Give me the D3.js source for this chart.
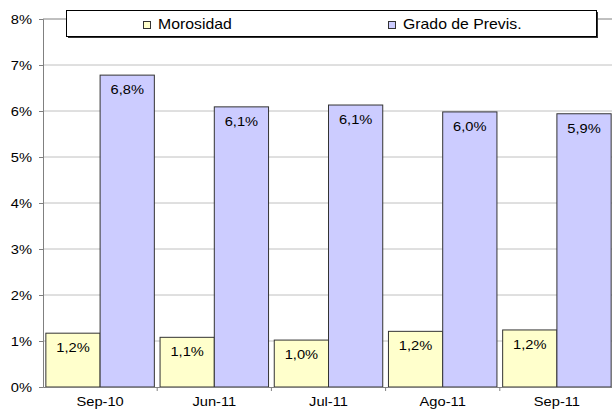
<!DOCTYPE html>
<html>
<head>
<meta charset="utf-8">
<script src="https://cdn.jsdelivr.net/npm/d3@7"></script>
<style>
  body { margin: 0; background: #fff; }
  svg text { font-family: "Liberation Sans", Arial, sans-serif; fill: #000; }
</style>
</head>
<body>
<svg class="chart" width="612" height="410"></svg>
<script>
// ---- Data ----
const categories = ["Sep-10", "Jun-11", "Jul-11", "Ago-11", "Sep-11"];
const seriesNames = ["Morosidad", "Grado de Previs."];
const morosidad = [1.17, 1.08, 1.02, 1.21, 1.24];
const gradoPrevis = [6.78, 6.09, 6.13, 5.98, 5.94];
const yTicks = [0, 1, 2, 3, 4, 5, 6, 7, 8];

const colors = ["#ffffcc", "#ccccff"];
// the original text is a little wider than normal
const stretch = 1.13;

// ---- Layout ----
const svg = d3.select("svg.chart");
const plotL = 43, plotR = 614, plotT = 19, plotB = 387;

const x = d3.scaleBand()
    .domain(categories)
    .range([plotL, plotR])
    .paddingInner(0.05)
    .paddingOuter(0.025);
const xs = d3.scaleBand()
    .domain(seriesNames)
    .range([0, x.bandwidth()]);
const y = d3.scaleLinear().domain([0, 8]).range([plotB, plotT]);

// place a text at (px, py), stretched horizontally
function placeText(sel, px, py) {
    sel.attr("x", 0).attr("y", 0).attr("dy", null)
       .attr("transform", d => `translate(${px(d)},${py(d)}) scale(${stretch},1)`);
}

// gridlines
svg.append("g")
    .selectAll("line")
    .data(yTicks.filter(t => t > 0 && t < 8))
    .join("line")
    .attr("x1", plotL).attr("x2", plotR)
    .attr("y1", d => y(d)).attr("y2", d => y(d))
    .attr("stroke", "#c0c0c0");

// top border of the plot area
svg.append("line")
    .attr("x1", plotL).attr("x2", plotR)
    .attr("y1", y(8)).attr("y2", y(8))
    .attr("stroke", "#808080");

// bars
const rows = categories.map((c, i) => [
    {cat: c, s: seriesNames[0], v: morosidad[i], k: 0},
    {cat: c, s: seriesNames[1], v: gradoPrevis[i], k: 1}
]).flat();

const bars = svg.append("g").selectAll("g")
    .data(rows)
    .join("g");
bars.append("rect")
    .attr("x", d => x(d.cat) + xs(d.s))
    .attr("y", d => y(d.v))
    .attr("width", xs.bandwidth())
    .attr("height", d => y(0) - y(d.v))
    .attr("fill", d => colors[d.k])
    .attr("stroke", "#333")
    .attr("stroke-width", 1);
bars.append("text")
    .attr("text-anchor", "middle")
    .attr("font-size", 13)
    .text(d => d.v.toFixed(1).replace(".", ",") + "%")
    .call(placeText, d => x(d.cat) + xs(d.s) + xs.bandwidth() / 2, d => y(d.v) + 19);

// y axis
const yAxis = svg.append("g")
    .attr("transform", `translate(${plotL},0)`)
    .call(d3.axisLeft(y).tickValues(yTicks).tickSize(4).tickFormat(d => d + "%"));
yAxis.select(".domain").attr("stroke", "#808080");
yAxis.selectAll(".tick line").attr("stroke", "#808080");
yAxis.selectAll("text")
    .attr("font-size", 13)
    .attr("font-family", "Liberation Sans, Arial, sans-serif")
    .call(placeText, () => -11, () => 4.5);

// x axis
const xAxis = svg.append("g")
    .attr("transform", `translate(0,${plotB})`)
    .call(d3.axisBottom(x).tickSize(0));
xAxis.select(".domain").attr("stroke", "#808080");
xAxis.selectAll("text")
    .attr("font-size", 13)
    .attr("font-family", "Liberation Sans, Arial, sans-serif")
    .call(placeText, () => 0, () => 19);
// category separator ticks
svg.append("g").selectAll("line")
    .data(categories)
    .join("line")
    .attr("x1", d => x(d) + x.bandwidth() + x.step() * x.paddingInner() / 2)
    .attr("x2", d => x(d) + x.bandwidth() + x.step() * x.paddingInner() / 2)
    .attr("y1", plotB).attr("y2", plotB + 4)
    .attr("stroke", "#808080");

// legend
const lg = svg.append("g");
lg.append("rect")
    .attr("x", 68).attr("y", 12)
    .attr("width", 530).attr("height", 26)
    .attr("fill", "#333");
lg.append("rect")
    .attr("x", 66.5).attr("y", 10.5)
    .attr("width", 530).attr("height", 26)
    .attr("fill", "#fff")
    .attr("stroke", "#000");
const legendX = [143, 388];
lg.selectAll("rect.swatch")
    .data(seriesNames)
    .join("rect")
    .classed("swatch", true)
    .attr("x", (d, i) => legendX[i] + 0.5).attr("y", 21.5)
    .attr("width", 7).attr("height", 7)
    .attr("fill", (d, i) => colors[i])
    .attr("stroke", "#333");
lg.selectAll("text")
    .data(seriesNames)
    .join("text")
    .attr("font-size", 14)
    .text(d => d)
    .call(placeText, d => legendX[seriesNames.indexOf(d)] + 15, () => 29);
</script>
</body>
</html>
